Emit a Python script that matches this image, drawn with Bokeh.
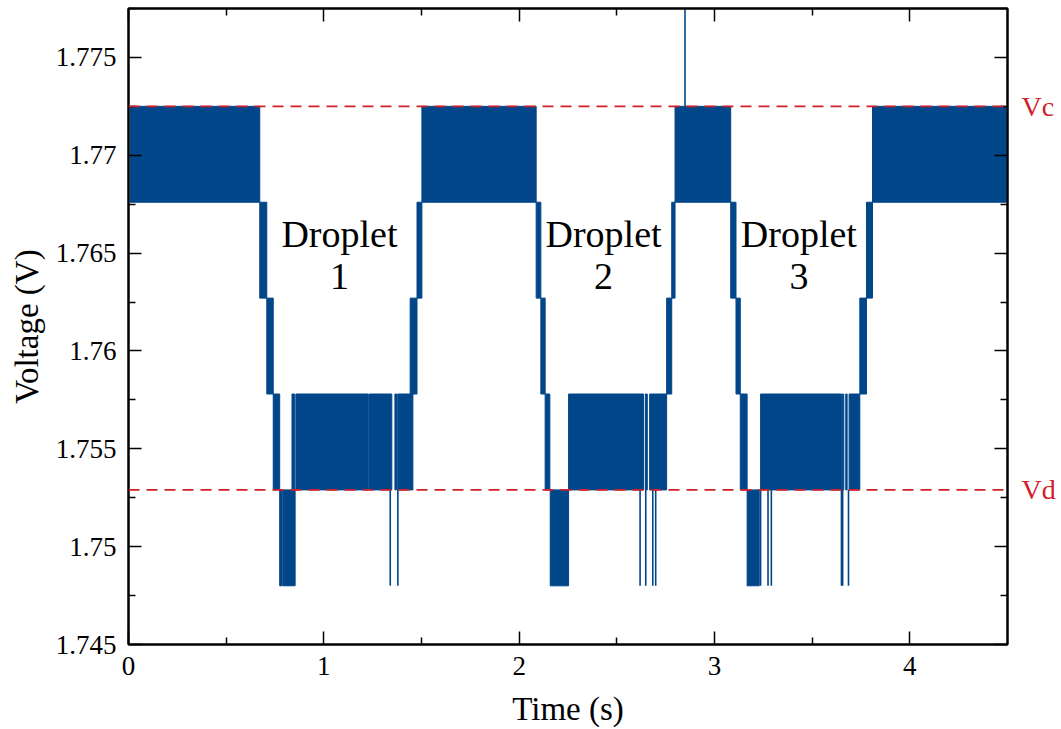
from bokeh.plotting import figure
from bokeh.models import (Range1d, LinearAxis, FixedTicker, CustomJSTickFormatter,
                          Span, ColumnDataSource)
from bokeh.core.properties import value
from bokeh.embed import file_html
from bokeh.resources import INLINE

# ADC quantisation levels of the sensor output (V)
v_levels = [1.7480, 1.7529, 1.7578, 1.7627, 1.7676, 1.7725]
vc_level = 1.7725   # continuous-phase level
vd_level = 1.7529   # droplet level
ref_names = ["Vd", "Vc"]

# Intervals where the signal toggles rapidly between two adjacent levels
band_start = [0.008, 1.502, 2.798, 3.809,
              0.672, 0.708, 0.741, 0.774, 0.791, 0.837, 0.857, 1.234, 1.364, 1.378, 1.442, 1.477,
              2.087, 2.111, 2.133, 2.159, 2.253, 2.646, 2.668, 2.755, 2.781,
              3.083, 3.110, 3.132, 3.167, 3.236, 3.655, 3.672, 3.689, 3.744, 3.778]
band_end = [0.672, 2.087, 3.083, 4.500,
            0.708, 0.741, 0.774, 0.787, 0.853, 0.851, 1.228, 1.348, 1.372, 1.456, 1.477, 1.502,
            2.111, 2.133, 2.157, 2.253, 2.637, 2.656, 2.755, 2.781, 2.798,
            3.110, 3.132, 3.167, 3.229, 3.650, 3.662, 3.679, 3.744, 3.778, 3.809]
band_low = [1.7676, 1.7676, 1.7676, 1.7676,
            1.7627, 1.7578, 1.7529, 1.7480, 1.7480, 1.7529, 1.7529, 1.7529, 1.7529, 1.7529, 1.7578, 1.7627,
            1.7627, 1.7578, 1.7529, 1.7480, 1.7529, 1.7529, 1.7529, 1.7578, 1.7627,
            1.7627, 1.7578, 1.7529, 1.7480, 1.7529, 1.7529, 1.7529, 1.7529, 1.7578, 1.7627]
band_high = [1.7725, 1.7725, 1.7725, 1.7725,
             1.7676, 1.7627, 1.7578, 1.7529, 1.7529, 1.7578, 1.7578, 1.7578, 1.7578, 1.7578, 1.7627, 1.7676,
             1.7676, 1.7627, 1.7578, 1.7529, 1.7578, 1.7578, 1.7578, 1.7627, 1.7676,
             1.7676, 1.7627, 1.7578, 1.7529, 1.7578, 1.7578, 1.7578, 1.7578, 1.7627, 1.7676]

# Isolated single-sample excursions
spike_t = [1.340, 1.379, 2.619, 2.648, 2.684, 2.699, 3.236, 3.274, 3.291, 3.650, 3.656, 3.686, 2.849]
spike_low = [1.7480] * 12 + [1.7725]
spike_high = [1.7529] * 12 + [1.7775]

# Droplet annotations
droplet_x = [1.080, 2.432, 3.432]
droplet_y = [1.7649, 1.7649, 1.7649]
droplet_text = ["Droplet\n1", "Droplet\n2", "Droplet\n3"]

# Axis ticks
x_major = [0, 1, 2, 3, 4]
x_minor = [0.5, 1.5, 2.5, 3.5]
y_major = [1.745, 1.750, 1.755, 1.760, 1.765, 1.770, 1.775]
y_minor = [1.7475, 1.7525, 1.7575, 1.7625, 1.7675, 1.7725, 1.7775]

SERIF = "Liberation Serif"
TRACE = "#02468A"
RED = "#D0202A"

p = figure(width=1061, height=729,
           x_range=Range1d(0, 4.5), y_range=Range1d(1.745, 1.7775),
           output_backend="svg", toolbar_location=None,
           min_border_left=128, min_border_right=54,
           min_border_top=8, min_border_bottom=85)
p.xgrid.visible = False
p.ygrid.visible = False
p.outline_line_color = "black"
p.outline_line_width = 2
p.background_fill_color = "white"
p.border_fill_color = "white"

bottom_ax = p.below[0]
left_ax = p.left[0]

bands = ColumnDataSource(dict(left=band_start, right=band_end, bottom=band_low, top=band_high))
p.quad(left="left", right="right", bottom="bottom", top="top", source=bands,
       fill_color=TRACE, line_color=TRACE, line_width=1)

spikes = ColumnDataSource(dict(x=spike_t, y0=spike_low, y1=spike_high))
p.segment(x0="x", x1="x", y0="y0", y1="y1", source=spikes, line_color=TRACE, line_width=1.6)

for lvl in (vc_level, vd_level):
    p.add_layout(Span(location=lvl, dimension="width", line_color=RED,
                      line_width=1.8, line_dash="11 7"))

p.text(x=droplet_x, y=droplet_y, text=droplet_text, text_align="center",
       text_baseline="middle", text_font=value(SERIF), text_font_size="38px",
       text_line_height=1.0, text_color="black")

# mirrored tick marks on the top and right edges, without labels
top_ax = LinearAxis(formatter=CustomJSTickFormatter(code="return '';"))
right_ax = LinearAxis(formatter=CustomJSTickFormatter(code="return '';"))
p.add_layout(top_ax, "above")
p.add_layout(right_ax, "right")

# reference-level names (Vc, Vd) beside the right edge
ref_ax = LinearAxis(
    ticker=FixedTicker(ticks=[vd_level, vc_level], minor_ticks=[]),
    formatter=CustomJSTickFormatter(
        args=dict(names=ref_names, locs=[vd_level, vc_level]),
        code="for (let i = 0; i < locs.length; i++) { if (Math.abs(tick - locs[i]) < 1e-6) return names[i]; } return '';"),
    axis_line_color=None, major_tick_line_color=None, minor_tick_line_color=None,
    major_tick_in=0, major_tick_out=0, minor_tick_in=0, minor_tick_out=0,
    major_label_standoff=14, major_label_text_font=SERIF,
    major_label_text_font_size="28px", major_label_text_color=RED)
p.add_layout(ref_ax, "right")

for ax in (bottom_ax, top_ax):
    ax.ticker = FixedTicker(ticks=x_major, minor_ticks=x_minor)
for ax in (left_ax, right_ax):
    ax.ticker = FixedTicker(ticks=y_major, minor_ticks=y_minor)

for ax in (bottom_ax, left_ax, top_ax, right_ax):
    ax.axis_line_width = 2
    ax.axis_line_color = "black"
    ax.major_tick_in = 13
    ax.major_tick_out = 0
    ax.minor_tick_in = 7
    ax.minor_tick_out = 0
    ax.major_tick_line_width = 1.5
    ax.minor_tick_line_width = 1.5
    ax.major_tick_line_color = "black"
    ax.minor_tick_line_color = "black"
    ax.major_label_text_font = SERIF
    ax.major_label_text_font_size = "27px"
    ax.major_label_text_color = "black"

for ax in (top_ax, right_ax):
    ax.major_label_standoff = 0

bottom_ax.formatter = CustomJSTickFormatter(code="return String(tick);")
left_ax.formatter = CustomJSTickFormatter(code="return String(parseFloat(tick.toFixed(4)));")
bottom_ax.major_label_standoff = 12
left_ax.major_label_standoff = 12

bottom_ax.axis_label = "Time (s)"
left_ax.axis_label = "Voltage (V)"
for ax in (bottom_ax, left_ax):
    ax.axis_label_text_font = SERIF
    ax.axis_label_text_font_size = "33px"
    ax.axis_label_text_font_style = "normal"
    ax.axis_label_text_color = "black"
bottom_ax.axis_label_standoff = 13
left_ax.axis_label_standoff = 8

open("out.html", "w").write(file_html(p, INLINE))
